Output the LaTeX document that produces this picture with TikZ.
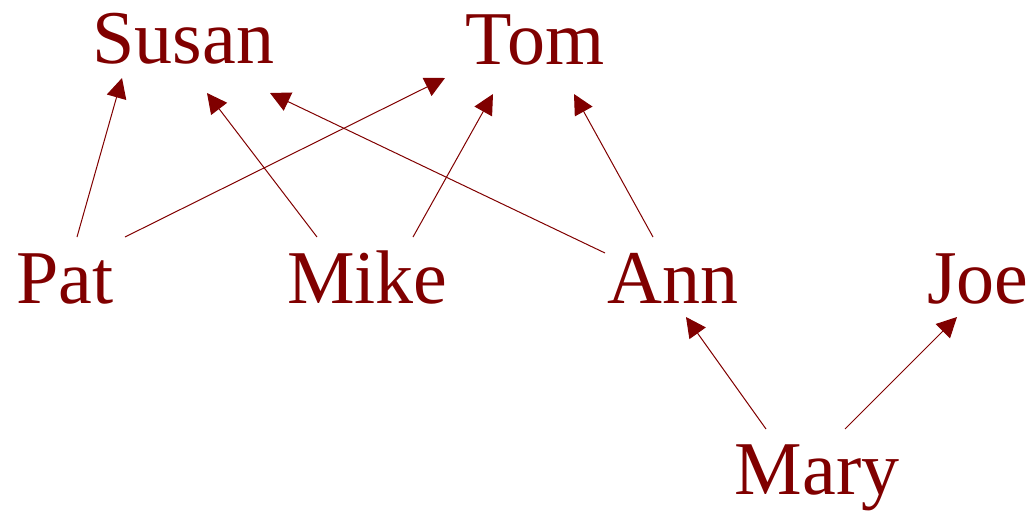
\documentclass[tikz,border=0pt]{standalone}
\usepackage{fontspec}
\setmainfont{Liberation Serif}
\usetikzlibrary{arrows.meta,calc}
\definecolor{dred}{HTML}{800000}
\begin{document}
\begin{tikzpicture}[x=0.5pt,y=-0.5pt,
  person/.style={inner sep=0pt,anchor=base,text=dred,font=\fontsize{38}{40}\selectfont},
  link/.style={draw=dred,line width=0.5pt,-{Triangle[length=10pt,width=10pt]},fill=none}]
\useasboundingbox (0,0) rectangle (1032,510);
\node[person] (Susan) at (183.5,63) {Susan};
\node[person] (Tom) at (535,64) {Tom};
\node[person] (Pat) at (65,303) {Pat};
\node[person] (Mike) at (367.5,303) {Mike};
\node[person] (Ann) at (673,303) {Ann};
\node[person] (Joe) at (978,303) {Joe};
\node[person] (Mary) at (817,494) {Mary};
\draw[link] ($(Pat.base)+(12,-66)$) -- ($(Susan.base)+(-61.5,15)$);
\draw[link] ($(Pat.base)+(60,-66)$) -- ($(Tom.base)+(-90,14)$);
\draw[link] ($(Mike.base)+(-50.5,-66)$) -- ($(Susan.base)+(23.5,30)$);
\draw[link] ($(Mike.base)+(45.5,-66)$) -- ($(Tom.base)+(-42,30)$);
\draw[link] ($(Ann.base)+(-68,-50)$) -- ($(Susan.base)+(86.5,30)$);
\draw[link] ($(Ann.base)+(-20,-66)$) -- ($(Tom.base)+(39,30)$);
\draw[link] ($(Mary.base)+(-51,-65)$) -- ($(Ann.base)+(13,14)$);
\draw[link] ($(Mary.base)+(28,-65)$) -- ($(Joe.base)+(-21,14)$);
\end{tikzpicture}
\end{document}
